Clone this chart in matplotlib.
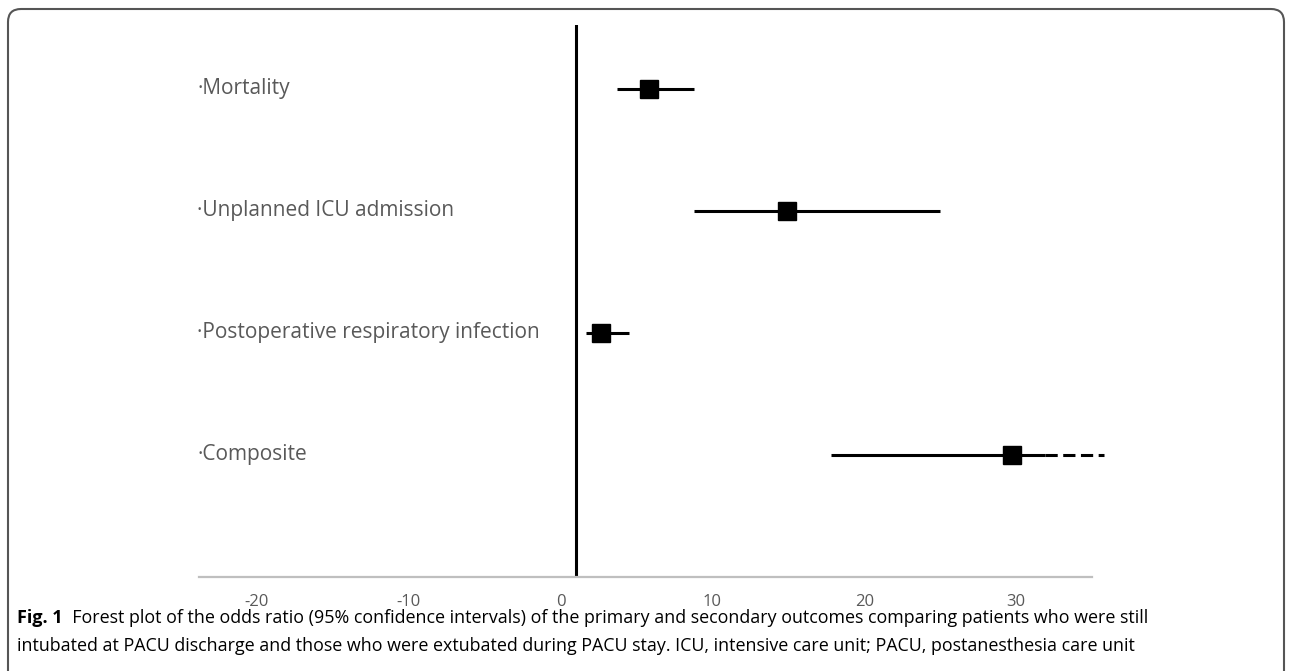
import matplotlib

matplotlib.use("Agg")
import matplotlib.pyplot as plt
from matplotlib.patches import FancyBboxPatch

# forest plot data
outcomes = ["Mortality", "Unplanned ICU admission",
            "Postoperative respiratory infection", "Composite"]
odds_ratio = [5.8, 14.9, 2.7, 29.7]
ci_low = [3.75, 8.8, 1.65, 17.8]
ci_high = [8.8, 25.0, 4.5, 31.9]
# composite upper CI runs past the axis -> drawn dashed
dashed_to = [None, None, None, 35.8]
xticks = [-20, -10, 0, 10, 20, 30]
ref_line = 1

caption_bold = "Fig. 1"
caption_1 = ("  Forest plot of the odds ratio (95% confidence intervals) of the primary "
             "and secondary outcomes comparing patients who were still")
caption_2 = ("intubated at PACU discharge and those who were extubated during PACU stay. "
             "ICU, intensive care unit; PACU, postanesthesia care unit")

W, H = 1293, 671
fig = plt.figure(figsize=(W / 100, H / 100), dpi=100)
ax = fig.add_axes([199 / W, 1 - 577 / H, (1092 - 199) / W, (577 - 25) / H])

ypos = list(range(len(outcomes), 0, -1))
for y, name, orv, lo, hi, ext in zip(ypos, outcomes, odds_ratio, ci_low, ci_high, dashed_to):
    ax.plot([lo, hi], [y, y], color="black", lw=2.2, solid_capstyle="butt", zorder=2)
    if ext is not None:
        ax.plot([hi, ext], [y, y], color="black", lw=2.2, linestyle=(0, (4, 1.8)),
                dash_capstyle="butt", zorder=2, clip_on=False)
    ax.plot(orv, y, marker="s", ms=13, color="black", zorder=3)
    ax.text(-23.9, y, "\u00b7" + name, ha="left", va="center", fontsize=15,
            color="#595959", family="Open Sans")

ax.axvline(ref_line, color="black", lw=2.2, zorder=1)

ax.set_xlim(-23.8, 35)
ax.set_ylim(0, 4.52)
ax.set_xticks(xticks)
ax.set_xticklabels([str(t) for t in xticks], color="#595959", fontsize=12,
                   family="Open Sans")
ax.tick_params(axis="x", length=0, pad=12)
ax.set_yticks([])
for side in ["top", "right", "left"]:
    ax.spines[side].set_visible(False)
ax.spines["bottom"].set_color("#bfbfbf")
ax.spines["bottom"].set_linewidth(1.6)

# caption under the plot
t = fig.text(17 / W, 1 - 618 / H, caption_bold, fontsize=13, fontweight="bold",
             family="Open Sans", va="center", ha="left")
fig.canvas.draw()
bb = t.get_window_extent()
fig.text(bb.x1 / W, 1 - 618 / H, caption_1, fontsize=12.9, family="Open Sans",
         va="center", ha="left")
fig.text(17 / W, 1 - 646 / H, caption_2, fontsize=12.9, family="Open Sans",
         va="center", ha="left")

# rounded frame around the figure (inches)
frame = FancyBboxPatch((0.08, -0.5), 12.76, 6.62 + 0.5,
                       boxstyle="round,pad=0,rounding_size=0.13",
                       transform=fig.dpi_scale_trans, fill=False,
                       edgecolor="#555555", lw=1.5)
fig.patches.append(frame)

fig.savefig("out.png", dpi=100)
